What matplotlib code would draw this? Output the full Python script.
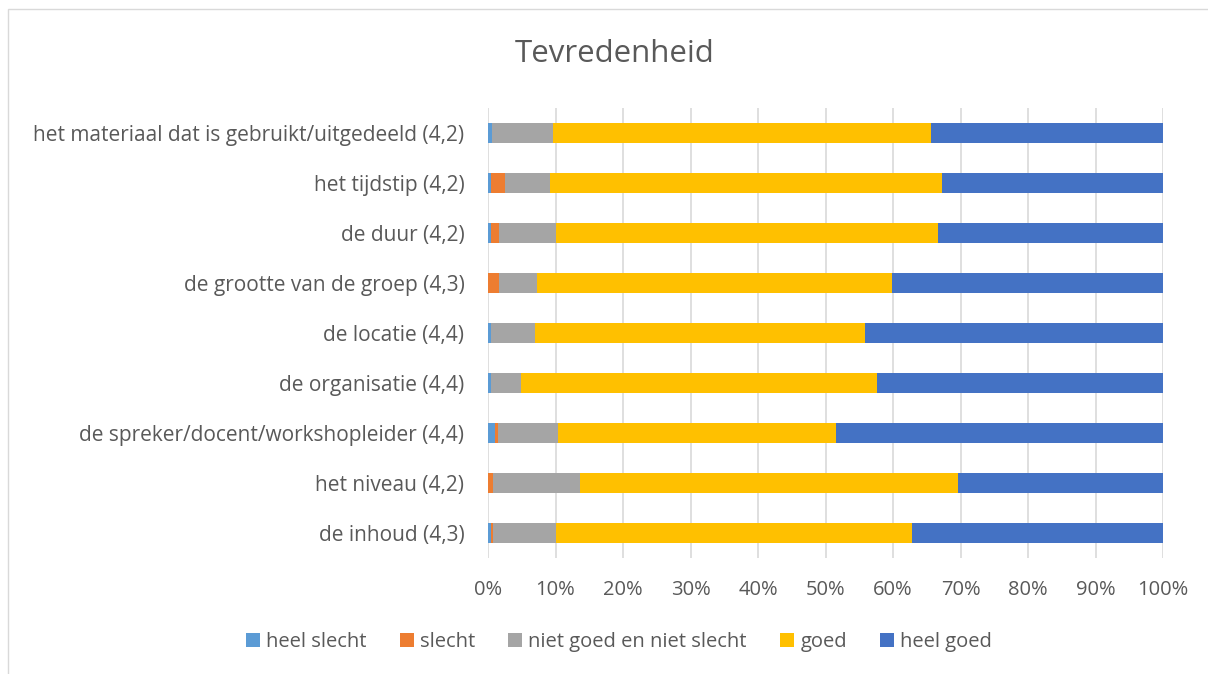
import matplotlib
matplotlib.use("Agg")
import matplotlib.pyplot as plt
from matplotlib.patches import Rectangle
import numpy as np

categories = [
    "het materiaal dat is gebruikt/uitgedeeld (4,2)",
    "het tijdstip (4,2)",
    "de duur (4,2)",
    "de grootte van de groep (4,3)",
    "de locatie (4,4)",
    "de organisatie (4,4)",
    "de spreker/docent/workshopleider (4,4)",
    "het niveau (4,2)",
    "de inhoud (4,3)",
]
series_names = ["heel slecht", "slecht", "niet goed en niet slecht", "goed", "heel goed"]
heel_slecht = [0.65, 0.5, 0.5, 0.0, 0.5, 0.5, 1.1, 0.0, 0.5]
slecht = [0.0, 2.0, 1.2, 1.7, 0.0, 0.0, 0.4, 0.8, 0.3]
neutraal = [9.05, 6.7, 8.3, 5.6, 6.5, 4.4, 8.8, 12.8, 9.2]
goed = [56.0, 58.1, 56.6, 52.5, 48.8, 52.7, 41.2, 56.1, 52.8]
heel_goed = [34.3, 32.7, 33.4, 40.2, 44.2, 42.4, 48.5, 30.3, 37.2]
colors = ["#5B9BD5", "#ED7D31", "#A5A5A5", "#FFC000", "#4472C4"]
xticks = [0, 10, 20, 30, 40, 50, 60, 70, 80, 90, 100]
xtick_labels = [f"{v}%" for v in xticks]

W, H = 1208, 674
fig = plt.figure(figsize=(W / 100, H / 100), dpi=100)
font = ["Open Sans", "DejaVu Sans"]
plt.rcParams["font.family"] = font

# chart border
fig.patches.append(Rectangle((8 / W, -0.1), 1.2, 1 - 9 / H + 0.1, transform=fig.transFigure,
                             fill=False, edgecolor="#D9D9D9", linewidth=1.0))

ax = fig.add_axes([488 / W, 1 - 558 / H, (1163 - 488) / W, (558 - 108) / H])
data = [heel_slecht, slecht, neutraal, goed, heel_goed]
y = np.arange(len(categories))
left = np.zeros(len(categories))
for name, vals, c in zip(series_names, data, colors):
    vals = np.array(vals)
    ax.barh(y, vals, left=left, height=0.4, color=c, label=name, zorder=3)
    left += vals

ax.set_ylim(len(categories) - 0.5, -0.5)
ax.set_xlim(0, 100)
ax.set_xticks(xticks)
ax.set_xticklabels(xtick_labels)
ax.set_yticks(y)
ax.set_yticklabels(categories)
ax.tick_params(axis="both", length=0, colors="#595959", labelsize=14.5)
ax.tick_params(axis="y", labelsize=15, pad=17)
ax.tick_params(axis="x", pad=16)
ax.grid(axis="x", color="#D9D9D9", linewidth=1.2, zorder=0)
for s in ax.spines.values():
    s.set_visible(False)

fig.text(615 / W, 1 - 54 / H, "Tevredenheid", ha="center", va="center",
         fontsize=22.5, color="#595959")

handles, labels = ax.get_legend_handles_labels()
fig.legend(handles, labels, loc="center", bbox_to_anchor=(619 / W, 1 - 642 / H), ncol=5,
           frameon=False, fontsize=14.5, handlelength=0.7, handleheight=0.7,
           handletextpad=0.3, columnspacing=1.65, labelcolor="#595959")

fig.savefig("out.png", dpi=100)
